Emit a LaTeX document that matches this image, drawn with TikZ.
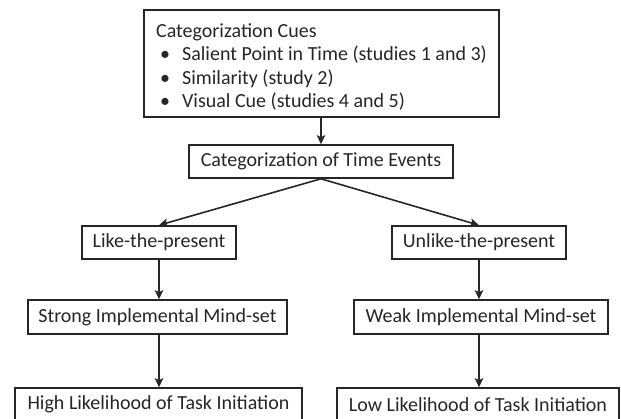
\documentclass[tikz,border=0pt]{standalone}
\usepackage{fontspec}
\setmainfont{Carlito}
\usetikzlibrary{arrows.meta}

\newcommand{\cuebullet}{\makebox[26pt][l]{\hspace{4pt}\textbullet}}

\begin{document}
\begin{tikzpicture}[x=1pt,y=-1pt,
  box/.style={draw=black!85,line width=1.6pt,inner sep=0pt,minimum height=33pt,
    font=\fontsize{20}{23.5}\selectfont,text=black!85},
  link/.style={draw=black!85,line width=1.6pt,-{Stealth[length=9pt,width=8.5pt,inset=2pt]}}]
  \clip (0,0) rectangle (621,419);
  \node[box,minimum width=355pt,minimum height=107pt,align=left] (cues) at (321.5,63.5)
    {\rule{0pt}{21pt}Categorization Cues\\
     \cuebullet Salient Point in Time (studies 1 and 3)\\
     \cuebullet Similarity (study 2)\\
     \cuebullet Visual Cue (studies 4 and 5)};
  \node[box,minimum width=264pt] (events) at (321,161.5) {Categorization of Time Events};
  \node[box,minimum width=154pt] (like) at (159,242.5) {Like-the-present};
  \node[box,minimum width=174pt] (unlike) at (479,242.5) {Unlike-the-present};
  \node[box,minimum width=259pt,minimum height=34pt] (strong) at (157.5,317) {Strong Implemental Mind-set};
  \node[box,minimum width=254pt,minimum height=34pt] (weak) at (481,317) {Weak Implemental Mind-set};
  \node[box,minimum width=287pt] (high) at (158.5,404.5) {High Likelihood of Task Initiation};
  \node[box,minimum width=282pt] (low) at (478,404.5) {Low Likelihood of Task Initiation};
  \draw[link] (cues.south -| events.north) -- (events.north);
  \draw[link] (events.south) -- (like.north);
  \draw[link] (events.south) -- (unlike.north);
  \draw[link] (like.south) -- (like.south |- strong.north);
  \draw[link] (like.south |- strong.south) -- (like.south |- high.north);
  \draw[link] (unlike.south) -- (unlike.south |- weak.north);
  \draw[link] (unlike.south |- weak.south) -- (unlike.south |- low.north);
\end{tikzpicture}
\end{document}
